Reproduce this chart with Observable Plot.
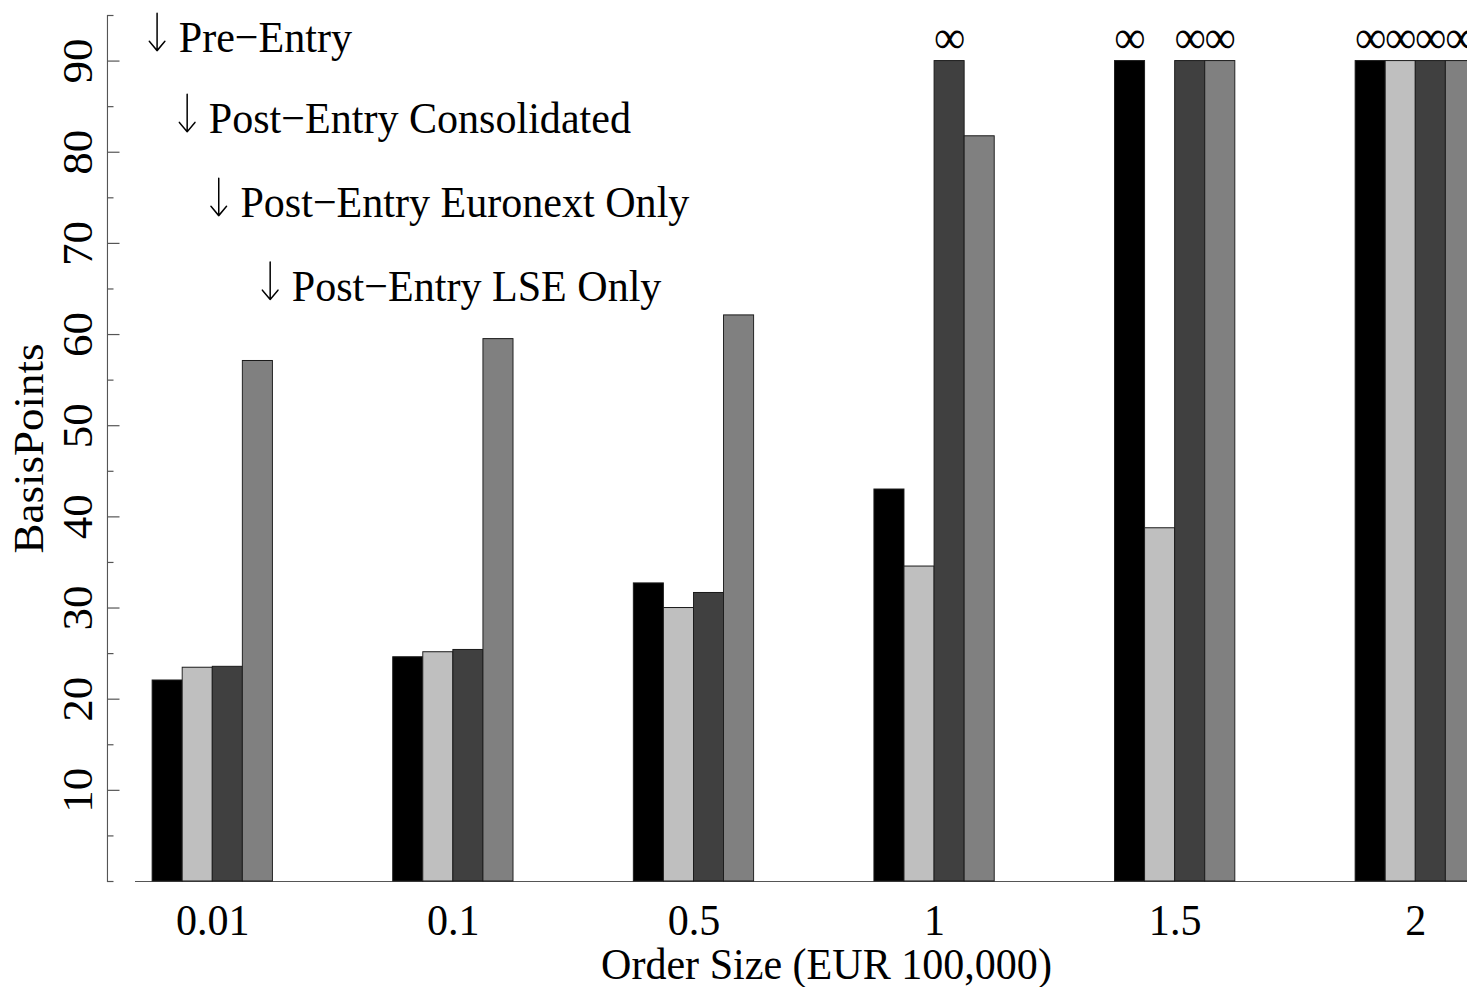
<!DOCTYPE html>
<html>
<head>
<meta charset="utf-8">
<script src="https://cdn.jsdelivr.net/npm/d3@7"></script>
<script src="https://cdn.jsdelivr.net/npm/@observablehq/plot@0.6"></script>
<style>
  html, body { margin: 0; padding: 0; background: #fff; overflow: hidden; }
  #chart svg { display: block; }
</style>
</head>
<body>
<div id="chart"></div>
<script>
// Order sizes (EUR 100,000) on the x axis
const orderSizes = ["0.01", "0.1", "0.5", "1", "1.5", "2"];

// Series names, in drawing order within each group
const seriesNames = [
  "Pre\u2212Entry",
  "Post\u2212Entry Consolidated",
  "Post\u2212Entry Euronext Only",
  "Post\u2212Entry LSE Only"
];

// Cost in basis points; Infinity where the book cannot absorb the order
const preEntry         = [22.05, 24.6, 32.7, 43.0, Infinity, Infinity];
const postConsolidated = [23.45, 25.15, 30.0, 34.55, 38.75, Infinity];
const postEuronext     = [23.55, 25.4, 31.65, Infinity, Infinity, Infinity];
const postLSE          = [57.1, 59.5, 62.1, 81.75, Infinity, Infinity];

// Y axis ticks
const majorTicks = [10, 20, 30, 40, 50, 60, 70, 80, 90];
const minorTicks = [0, 5, 15, 25, 35, 45, 55, 65, 75, 85, 95];

// ---- layout ----
const W = 1467, H = 987;
const squeeze = 0.935;            // horizontal compression of the whole drawing
const Wi = W / squeeze;           // internal drawing width
const mLeft = 107 / squeeze;
const cap = 90;                   // infinite values are drawn up to this height
const groupStep = 8;              // bar widths from one group to the next
const fills = ["#000000", "#bfbfbf", "#404040", "#808080"];
const axisColor = "#555";
const font = 45;

const seriesValues = [preEntry, postConsolidated, postEuronext, postLSE];
const bars = [];
seriesValues.forEach((vals, s) => {
  vals.forEach((v, g) => {
    const x1 = g * groupStep + s;
    bars.push({
      size: orderSizes[g],
      series: seriesNames[s],
      s, g, x1, x2: x1 + 1,
      value: v,
      shown: Number.isFinite(v) ? v : cap
    });
  });
});
const infiniteBars = bars.filter(d => !Number.isFinite(d.value));

// legend labels above the first group, stepping down and to the right;
// each label has a down arrow just before it
const legendAnchor = [
  {x: 0.87, y: 91.0},
  {x: 1.87, y: 82.1},
  {x: 2.92, y: 72.9},
  {x: 4.63, y: 63.7}
];
const arrowGap = 0.72;    // bar widths between arrow and label start
const arrowRise = 4.25;   // arrow length in basis points

const plotWidth = Wi - mLeft;

const chart = Plot.plot({
  width: Wi,
  height: H,
  marginLeft: mLeft,
  marginRight: 0,
  marginTop: 15,
  marginBottom: 106,
  x: {domain: [-1.5, 43.72], axis: null},
  y: {domain: [0, 95], axis: null},
  style: {fontFamily: "'Liberation Serif', 'Times New Roman', serif", fontSize: font + "px", background: "#fff", color: "#000"},
  marks: [
    // baseline under the bars
    Plot.ruleY([0], {stroke: axisColor, strokeWidth: 1.2, insetLeft: 28 / squeeze}),
    // y axis line, ticks and labels
    Plot.frame({anchor: "left", stroke: axisColor, strokeWidth: 1.2}),
    Plot.tickY(majorTicks, {y: d => d, stroke: axisColor, strokeWidth: 1.2, insetRight: plotWidth - 12.5 / squeeze}),
    Plot.tickY(minorTicks, {y: d => d, stroke: axisColor, strokeWidth: 1.2, insetRight: plotWidth - 6.5 / squeeze}),
    Plot.text(majorTicks, {
      y: d => d, text: d => String(d), frameAnchor: "left",
      dx: -15 / squeeze, rotate: -90, textAnchor: "middle", lineAnchor: "bottom",
      fontSize: font, fill: "#000"
    }),
    Plot.text(["BasisPoints"], {
      frameAnchor: "left", dx: -64 / squeeze, rotate: -90,
      textAnchor: "middle", lineAnchor: "bottom", fontSize: font, fill: "#000"
    }),
    // bars
    Plot.rectY(bars, {
      x1: "x1", x2: "x2", y1: 0, y2: "shown",
      fill: d => fills[d.s], stroke: "#1a1a1a", strokeWidth: 1,
      title: d => `${d.series}, ${d.size}: ${Number.isFinite(d.value) ? d.value : "\u221e"}`
    }),
    // infinity markers above capped bars
    Plot.text(infiniteBars, {
      x: d => d.x1 + 0.5, y: "shown", text: () => "\u221e",
      dy: -8, lineAnchor: "bottom", fontSize: font + 2, fill: "#000"
    }),
    // group labels and x title
    Plot.text(orderSizes, {
      x: (d, i) => i * groupStep + 2, text: d => d, frameAnchor: "bottom",
      dy: 53, lineAnchor: "bottom", fontSize: font, fill: "#000"
    }),
    Plot.text(["Order Size (EUR 100,000)"], {
      frameAnchor: "bottom", dx: 39 / squeeze, dy: 97,
      lineAnchor: "bottom", fontSize: font, fill: "#000"
    }),
    // legend: arrows and labels
    Plot.arrow(seriesNames, {
      x1: (d, i) => legendAnchor[i].x - arrowGap,
      x2: (d, i) => legendAnchor[i].x - arrowGap,
      y1: (d, i) => legendAnchor[i].y + arrowRise,
      y2: (d, i) => legendAnchor[i].y + 0.15,
      stroke: "#000", strokeWidth: 1.6, headLength: 15, headAngle: 84
    }),
    Plot.text(seriesNames, {
      x: (d, i) => legendAnchor[i].x, y: (d, i) => legendAnchor[i].y,
      text: d => d, textAnchor: "start", lineAnchor: "bottom",
      fontSize: font, fill: "#000"
    })
  ]
});

chart.setAttribute("width", W);
chart.setAttribute("height", H);
chart.setAttribute("preserveAspectRatio", "none");
chart.style.width = W + "px";
chart.style.height = H + "px";
chart.style.maxWidth = "none";
document.getElementById("chart").appendChild(chart);
</script>
</body>
</html>
